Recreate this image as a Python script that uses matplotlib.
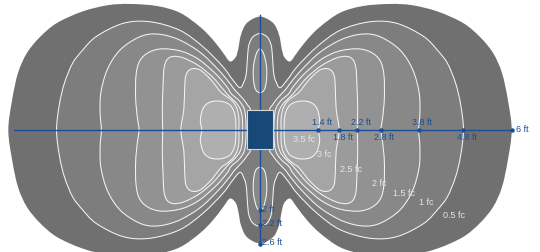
import matplotlib
matplotlib.use("Agg")
import matplotlib.pyplot as plt
from matplotlib.patches import PathPatch, Rectangle
from matplotlib.path import Path
import numpy as np

plt.rcParams['font.family'] = ['Liberation Sans', 'DejaVu Sans']

# isofootcandle levels (fc) and the grey used inside each one
levels = [0.5, 1, 1.5, 2, 2.5, 3, 3.5]
shades = ['#707070', '#7d7d7d', '#888888', '#929292', '#9b9b9b', '#a5a5a5', '#afafaf']

# outlines in ft
# 0.5 and 1 fc wrap the whole pattern: upper right quarter, from the top of the axis to the right
iso_05 = [(0, 2.68), (0.31, 2.53), (0.45, 2.25), (0.51, 1.94), (0.57, 1.73), (0.71, 1.62),
          (0.87, 1.82), (1.11, 2.13), (1.42, 2.44), (1.89, 2.77), (2.43, 2.93), (3.07, 2.98),
          (3.6, 2.95), (4.2, 2.8), (4.8, 2.53), (5.2, 2.2), (5.51, 1.82), (5.72, 1.35),
          (5.86, 0.71), (5.95, 0)]
iso_10 = [(0, 2.28), (0.17, 2.2), (0.26, 2.02), (0.29, 1.8), (0.31, 1.5), (0.33, 1.3),
          (0.37, 1.16), (0.47, 1.0), (0.64, 1.18), (0.88, 1.5), (1.35, 1.97), (1.9, 2.36),
          (2.61, 2.56), (3.24, 2.52), (3.87, 2.21), (4.2, 1.88), (4.43, 1.58), (4.62, 1.12),
          (4.74, 0.62), (4.81, 0)]
# side lobe loops: upper half, from the fixture side round to the axis crossing
iso_15 = [(0.2, 0), (0.22, 0.45), (0.3, 0.6), (0.42, 0.76), (0.6, 0.95), (0.71, 1.1),
          (0.98, 1.42), (1.42, 1.84), (1.95, 2.15), (2.45, 2.27), (2.85, 2.2), (3.3, 1.9),
          (3.6, 1.45), (3.76, 0.9), (3.78, 0.4), (3.75, 0)]
iso_20 = [(0.33, 0), (0.34, 0.3), (0.38, 0.52), (0.5, 0.7), (0.68, 0.86), (0.78, 1.02),
          (1.05, 1.33), (1.45, 1.67), (1.85, 1.86), (2.3, 1.92), (2.62, 1.84), (2.84, 1.64),
          (2.93, 1.3), (2.94, 0.75), (2.9, 0.3), (2.86, 0)]
iso_25 = [(0.41, 0), (0.42, 0.3), (0.47, 0.5), (0.58, 0.66), (0.75, 0.82), (0.86, 0.95),
          (1.12, 1.25), (1.45, 1.52), (1.8, 1.7), (2.05, 1.74), (2.2, 1.66), (2.27, 1.45),
          (2.29, 1.1), (2.31, 0.5), (2.3, 0)]
iso_30 = [(0.5, 0), (0.5, 0.3), (0.55, 0.52), (0.65, 0.68), (0.8, 0.8), (0.93, 0.9),
          (1.17, 1.2), (1.42, 1.42), (1.63, 1.44), (1.75, 1.3), (1.78, 1.0), (1.8, 0.5),
          (1.87, 0)]
iso_35 = [(0.57, 0), (0.58, 0.28), (0.62, 0.45), (0.72, 0.6), (0.92, 0.68), (1.18, 0.66),
          (1.34, 0.52), (1.41, 0.25), (1.38, 0)]
# narrow 1.5 fc loop above (and below) the fixture, right half
iso_15_mid = [(0, 1.92), (0.08, 1.82), (0.14, 1.6), (0.16, 1.4), (0.15, 1.15), (0.1, 0.95),
              (0, 0.88)]

# dimension marks
h_marks = [1.38, 1.87, 2.30, 2.86, 3.75, 4.81, 5.95]
h_labels = ['1.4 ft', '1.8 ft', '2.2 ft', '2.8 ft', '3.8 ft', '4.8 ft', '6 ft']
v_marks = [1.9, 2.25, 2.69]
v_labels = ['2 ft', '2.2 ft', '2.6 ft']

# fc labels
fc_text = ['3.5 fc', '3 fc', '2.5 fc', '2 fc', '1.5 fc', '1 fc', '0.5 fc']
fc_x = [1.045, 1.513, 2.147, 2.809, 3.397, 3.924, 4.582]
fc_y = [-0.213, -0.574, -0.929, -1.26, -1.497, -1.719, -2.026]

blue = '#1a4f95'


def whole(pts):
    p = np.array(pts, dtype=float)
    q4 = (p[::-1] * [1, -1])[1:]
    q3 = (p * [-1, -1])[1:]
    q2 = (p[::-1] * [-1, 1])[1:-1]
    return [np.vstack([p, q4, q3, q2])]


def side_loops(pts):
    p = np.array(pts, dtype=float)
    right = np.vstack([p, (p[::-1] * [1, -1])[1:-1]])
    return [right, right * [-1, 1]]


def mid_loops(pts):
    p = np.array(pts, dtype=float)
    top = np.vstack([p, (p[::-1] * [-1, 1])[1:-1]])
    return [top, top * [1, -1]]


def smooth_path(poly):
    # closed curve through the points, drawn as cubic bezier pieces
    n = len(poly)
    verts = [poly[0]]
    codes = [Path.MOVETO]
    for i in range(n):
        p0, p1 = poly[i - 1], poly[i]
        p2, p3 = poly[(i + 1) % n], poly[(i + 2) % n]
        verts += [p1 + (p2 - p0) / 6, p2 - (p3 - p1) / 6, p2]
        codes += [Path.CURVE4] * 3
    verts.append(poly[0])
    codes.append(Path.CLOSEPOLY)
    return Path(verts, codes)


shapes = [whole(iso_05), whole(iso_10), side_loops(iso_15) + mid_loops(iso_15_mid),
          side_loops(iso_20), side_loops(iso_25), side_loops(iso_30), side_loops(iso_35)]

fig = plt.figure(figsize=(5.4, 2.52), dpi=100)
ax = fig.add_axes([0, 0, 1, 1])
ax.set_xlim(-260 / 42.3, 280 / 42.3)
ax.set_ylim(-122 / 42.3, 130 / 42.3)
ax.axis('off')

for i, polys in enumerate(shapes):
    for poly in polys:
        edge = 'none' if i == 0 else '#f4f4f4'
        ax.add_patch(PathPatch(smooth_path(poly), facecolor=shades[i], edgecolor=edge,
                               linewidth=0.75, zorder=1 + i))

for t, x, y in zip(fc_text, fc_x, fc_y):
    ax.text(x, y, t, color='#e6e6e6', fontsize=6.5, ha='center', va='center', zorder=10)

# axes through the fixture
ax.plot([-5.82, h_marks[-1]], [0, 0], color=blue, lw=1.0, zorder=11)
ax.plot([0, 0], [2.72, -2.71], color=blue, lw=1.0, zorder=11)
ax.plot(h_marks, [0] * len(h_marks), 'o', color=blue, ms=2.2, zorder=12)
ax.plot([0] * len(v_marks), [-v for v in v_marks], 'o', color=blue, ms=2.2, zorder=12)

for i, (m, lab) in enumerate(zip(h_marks, h_labels)):
    if lab == '6 ft':
        ax.text(m + 0.1, 0.02, lab, color=blue, fontsize=6.5, ha='left', va='center', zorder=12)
    else:
        y = 0.18 if i % 2 == 0 else -0.17
        ax.text(m - 0.155, y, lab, color=blue, fontsize=6.5, ha='left', va='center', zorder=12)
for m, lab in zip(v_marks, v_labels):
    ax.text(0.04, -m + 0.03, lab, color=blue, fontsize=6.5, ha='left', va='center', zorder=12)

# the fixture
ax.add_patch(Rectangle((-0.3, -0.45), 0.6, 0.92, facecolor='#174878', edgecolor='#d8d8d8',
                       linewidth=0.8, zorder=13))

fig.savefig('out.png', dpi=100)
